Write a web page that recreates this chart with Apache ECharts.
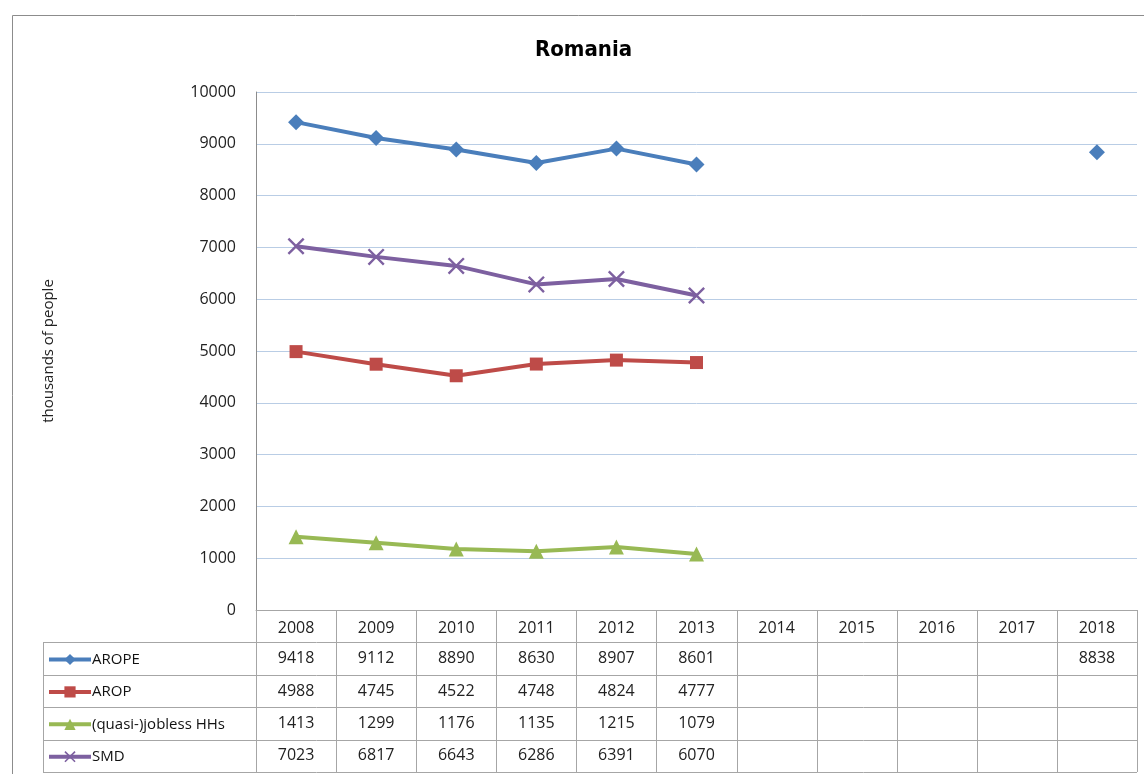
<!DOCTYPE html>
<html>
<head>
<meta charset="utf-8">
<script src="https://cdn.jsdelivr.net/npm/echarts@6/dist/echarts.min.js"></script>
<style>
  html, body { margin: 0; padding: 0; background: #fff; }
  #main { width: 1144px; height: 774px; }
</style>
</head>
<body>
<div id="main"></div>
<script>
var years = ['2008', '2009', '2010', '2011', '2012', '2013', '2014', '2015', '2016', '2017', '2018'];
var seriesNames = ['AROPE', 'AROP', '(quasi-)jobless HHs', 'SMD'];
var arope = [9418, 9112, 8890, 8630, 8907, 8601, null, null, null, null, 8838];
var arop = [4988, 4745, 4522, 4748, 4824, 4777, null, null, null, null, null];
var jobless = [1413, 1299, 1176, 1135, 1215, 1079, null, null, null, null, null];
var smd = [7023, 6817, 6643, 6286, 6391, 6070, null, null, null, null, null];
var yTicks = [0, 10000, 1000];  // min, max, interval

var colors = ['#4a7ebb', '#be4b48', '#98b954', '#7d60a0'];
var font = 'Open Sans';
var gridLine = '#a6a6a6';
var rowH = 32.4;
var xMark = 'path://M0,1L1,0L5,4L9,0L10,1L6,5L10,9L9,10L5,6L1,10L0,9L4,5Z';

var myChart = echarts.init(document.getElementById('main'));

function lineSeries(idx, data, symbol, size) {
    return {
        name: seriesNames[idx],
        type: 'line',
        data: data,
        symbol: symbol,
        symbolSize: size,
        connectNulls: false,
        lineStyle: { width: 4, color: colors[idx] },
        itemStyle: { color: colors[idx] },
        emphasis: { disabled: true }
    };
}

var option = {
    animation: false,
    title: {
        text: 'Romania',
        left: 530,
        top: 34,
        textStyle: { fontFamily: 'DejaVu Sans Condensed', fontSize: 22, fontWeight: 'bold', color: '#000' }
    },
    legend: {
        orient: 'vertical',
        left: 47,
        top: 652,
        height: 140,
        padding: 0,
        itemWidth: 42,
        itemHeight: 14,
        itemGap: rowH - 15,
        selectedMode: false,
        lineStyle: { width: 4 },
        textStyle: { fontFamily: font, fontSize: 15, color: '#111', padding: [0, 0, 0, -4] },
        data: seriesNames
    },
    grid: { left: 256, right: 7, top: 92, bottom: 164 },
    xAxis: {
        type: 'category',
        data: years,
        boundaryGap: true,
        axisLine: { lineStyle: { color: gridLine } },
        axisTick: { show: false },
        axisLabel: { margin: 10, fontFamily: font, fontSize: 16, color: '#222' },
        splitLine: { show: false }
    },
    yAxis: {
        type: 'value',
        min: yTicks[0],
        max: yTicks[1],
        interval: yTicks[2],
        name: 'thousands of people',
        nameLocation: 'middle',
        nameGap: 200,
        nameTextStyle: { fontFamily: font, fontSize: 15, color: '#222' },
        axisLine: { show: true, lineStyle: { color: '#8c8c8c' } },
        axisTick: { show: false },
        axisLabel: { margin: 20, fontFamily: font, fontSize: 16, color: '#222',
            formatter: function (v) { return String(v); } },
        splitLine: { lineStyle: { color: '#b9cde5' } }
    },
    series: [
        lineSeries(0, arope, 'diamond', 16),
        lineSeries(1, arop, 'rect', 13),
        lineSeries(2, jobless, 'triangle', 15),
        lineSeries(3, smd, xMark, 17)
    ]
};
myChart.setOption(option);

// data table below the plot, positioned from the axis scales
function drawTable() {
    var tableData = [arope, arop, jobless, smd];
    var x0 = myChart.convertToPixel({ xAxisIndex: 0 }, 0);
    var x1 = myChart.convertToPixel({ xAxisIndex: 0 }, 1);
    var half = (x1 - x0) / 2;
    var yBase = myChart.convertToPixel({ yAxisIndex: 0 }, 0);
    var leftX = 43;
    var rightX = myChart.convertToPixel({ xAxisIndex: 0 }, years.length - 1) + half;
    var els = [];
    var lineStyle = { stroke: gridLine, lineWidth: 1 };

    // frame around the whole chart
    els.push({ type: 'rect', shape: { x: 12.5, y: 15.5, width: 1150, height: 780 },
        style: { fill: null, stroke: '#8c8c8c', lineWidth: 1 }, silent: true });

    // horizontal rules
    var bottom = yBase + rowH * (1 + tableData.length);
    for (var r = 1; r <= tableData.length + 1; r++) {
        var y = Math.round(yBase + rowH * r) + 0.5;
        els.push({ type: 'line', shape: { x1: leftX, y1: y, x2: rightX, y2: y }, style: lineStyle, silent: true });
    }
    // vertical rules
    els.push({ type: 'line', shape: { x1: leftX + 0.5, y1: yBase + rowH, x2: leftX + 0.5, y2: bottom }, style: lineStyle, silent: true });
    for (var c = 0; c <= years.length; c++) {
        var vx = Math.round(x0 - half + c * half * 2) + 0.5;
        els.push({ type: 'line', shape: { x1: vx, y1: yBase, x2: vx, y2: bottom }, style: lineStyle, silent: true });
    }
    // cell values
    for (var s = 0; s < tableData.length; s++) {
        for (var i = 0; i < years.length; i++) {
            var v = tableData[s][i];
            if (v === null) continue;
            els.push({
                type: 'text',
                x: myChart.convertToPixel({ xAxisIndex: 0 }, i),
                y: yBase + rowH * (s + 1.5),
                style: { text: String(v), fontFamily: font, fontSize: 16, fill: '#222',
                    textAlign: 'center', textVerticalAlign: 'middle' },
                silent: true
            });
        }
    }
    myChart.setOption({ graphic: els });
}
drawTable();
</script>
</body>
</html>
